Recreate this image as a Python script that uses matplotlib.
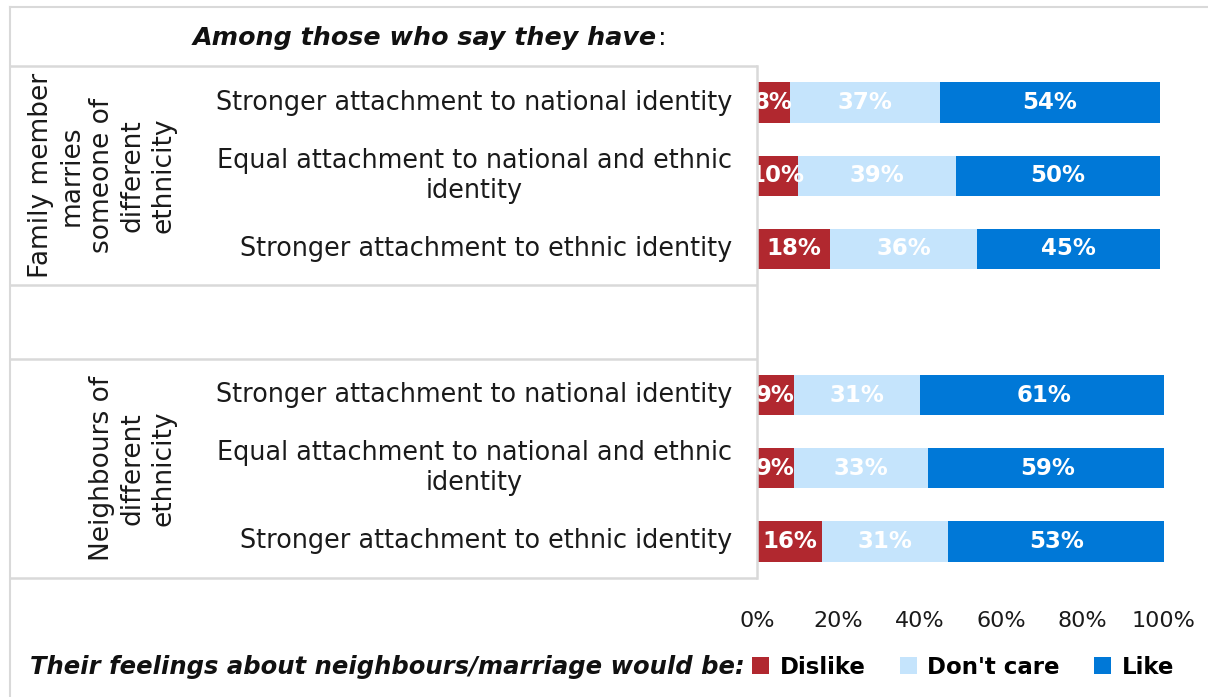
import matplotlib
matplotlib.use("Agg")
import matplotlib.pyplot as plt
from matplotlib.lines import Line2D
from matplotlib.patches import Patch

# ---- data ----
categories = [
    "Stronger attachment to national identity",
    "Equal attachment to national and ethnic\nidentity",
    "Stronger attachment to ethnic identity",
    "",
    "Stronger attachment to national identity",
    "Equal attachment to national and ethnic\nidentity",
    "Stronger attachment to ethnic identity",
]
groups = ["Family member\nmarries\nsomeone of\ndifferent\nethnicity",
          "Neighbours of\ndifferent\nethnicity"]
dislike = [8, 10, 18, None, 9, 9, 16]
dont_care = [37, 39, 36, None, 31, 33, 31]
like = [54, 50, 45, None, 61, 59, 53]
series_names = ["Dislike", "Don't care", "Like"]
tick_values = [0, 20, 40, 60, 80, 100]
tick_labels = ["0%", "20%", "40%", "60%", "80%", "100%"]

colors = ["#B1282F", "#C5E4FC", "#0078D7"]
grid_col = "#D9D9D9"
text_col = "#1a1a1a"

plt.rcParams["font.family"] = ["DejaVu Sans"]

W, H = 1208, 697
fig = plt.figure(figsize=(W / 100, H / 100), dpi=100)
fig.patch.set_facecolor("white")


def fx(px):
    return px / W


def fy(py):
    return 1 - py / H


top_px, bot_px = 66, 578
left_px, right_px = 757, 1164

ax = fig.add_axes([fx(left_px), fy(bot_px), fx(right_px - left_px), (bot_px - top_px) / H])
ax_lab = fig.add_axes([fx(10), fy(bot_px), fx(left_px - 10), (bot_px - top_px) / H], sharey=ax)

n = len(categories)
ypos = list(range(n))
bar_h = 0.55

# stacked bars with value labels
for i in ypos:
    if dislike[i] is None:
        continue
    left = 0
    for vals, col in zip((dislike, dont_care, like), colors):
        v = vals[i]
        ax.barh(i, v, left=left, height=bar_h, color=col, edgecolor="none")
        t = ax.text(left + v / 2, i, f"{v}%", ha="center", va="center",
                    color="white", fontsize=16.5, fontweight="bold")
        t.set_clip_on(True)
        left += v

ax.set_ylim(n - 0.5, -0.5)
ax.set_xlim(0, 100)
ax.set_xticks(tick_values)
ax.set_xticklabels(tick_labels, fontsize=16, color=text_col)
ax.tick_params(axis="x", length=0, pad=24)
ax.tick_params(axis="y", left=False, labelleft=False)
for s in ax.spines.values():
    s.set_visible(False)
ax.patch.set_alpha(0)

# label panel: category text and group text with separator lines
ax_lab.set_xlim(0, 1)
ax_lab.axis("off")
ax_lab.patch.set_alpha(0)
lab_w = left_px - 10
for i, c in enumerate(categories):
    if c:
        ax_lab.text((732 - 10) / lab_w, i, c, ha="right", va="center",
                    multialignment="center", fontsize=18.4, color=text_col,
                    linespacing=1.22)
group_centers = [1, 5]
for g, yc in zip(groups, group_centers):
    ax_lab.text((176 - 10) / lab_w, yc, g, rotation=90, ha="right", va="center",
                multialignment="center", fontsize=19, color=text_col,
                linespacing=1.22)
for yb in (-0.5, 2.5, 3.5, 6.5):
    ax_lab.plot([0, 1], [yb, yb], color=grid_col, lw=1.8, clip_on=False,
                solid_capstyle="butt")
ax_lab.plot([1, 1], [-0.5, 6.5], color=grid_col, lw=1.8, clip_on=False)

# outer chart frame (top and left edges)
fig.add_artist(Line2D([fx(10), 1], [fy(7), fy(7)], color=grid_col, lw=1.5))
fig.add_artist(Line2D([fx(10), fx(10)], [fy(7), 0], color=grid_col, lw=1.5))

# heading: bold italic phrase followed by a plain colon
head = fig.text(fx(193), fy(38), "Among those who say they have",
                ha="left", va="center", fontsize=18.3, fontweight="bold",
                fontstyle="italic", color="#111111")
fig.canvas.draw()
hb = head.get_window_extent()
fig.text(hb.x1 / W + 0.001, fy(38), ":", ha="left", va="center",
         fontsize=18.3, color="#111111")

# legend line
lead = fig.text(fx(30), fy(667), "Their feelings about neighbours/marriage would be:",
                ha="left", va="center", fontsize=17.5, fontweight="bold",
                fontstyle="italic", color="#111111")
fig.canvas.draw()
bb = lead.get_window_extent()
handles = [Patch(facecolor=c, edgecolor="none") for c in colors]
leg = fig.legend(handles, series_names, loc="center left",
                 bbox_to_anchor=(bb.x1 / W + 0.006, fy(667)), ncol=3,
                 frameon=False, handlelength=0.75, handleheight=0.75,
                 handletextpad=0.45, columnspacing=1.5, borderpad=0,
                 borderaxespad=0, prop={"size": 16.5, "weight": "bold"})

fig.savefig("out.png", dpi=100)
